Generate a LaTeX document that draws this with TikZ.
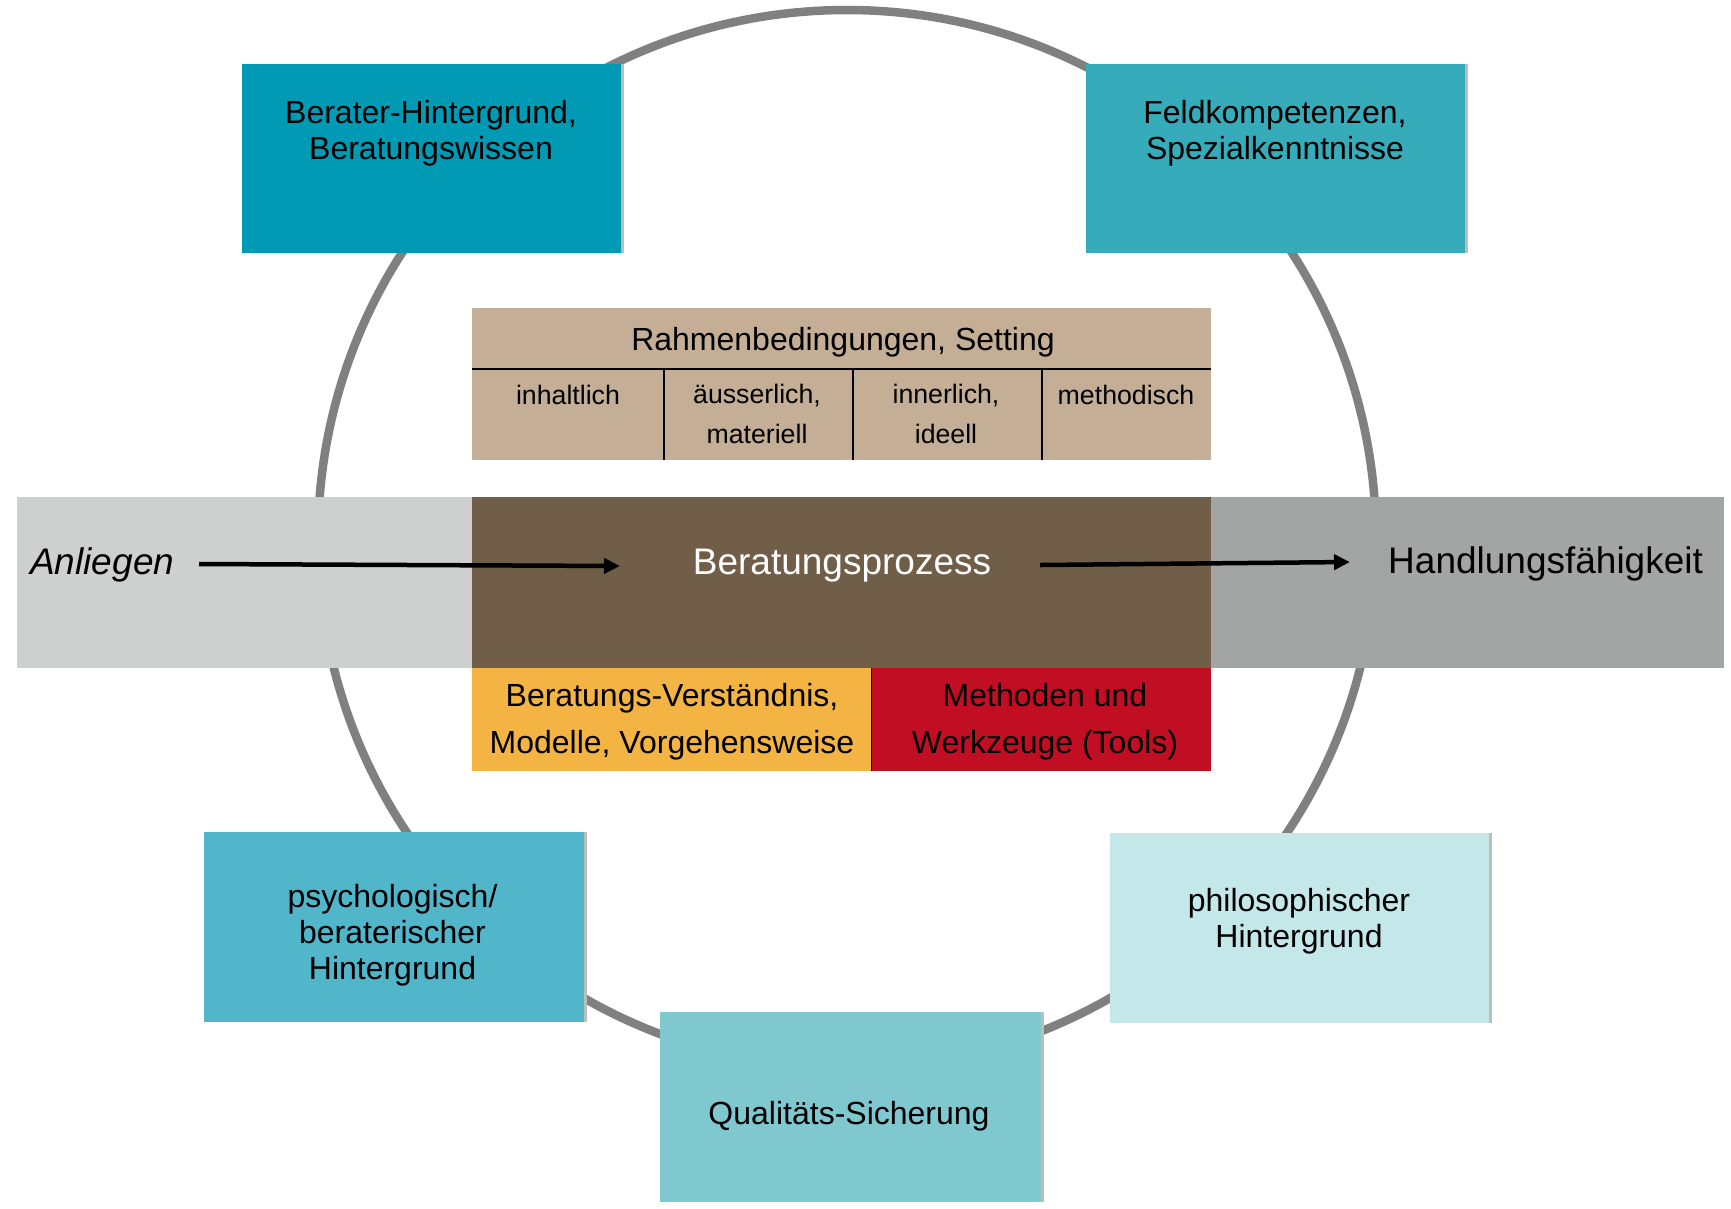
\documentclass[tikz,border=0pt]{standalone}
\usepackage{fontspec}
\setmainfont{Liberation Sans}
\usetikzlibrary{arrows.meta}
\definecolor{ringgray}{HTML}{808080}
\definecolor{cBerater}{HTML}{009AB4}
\definecolor{cFeld}{HTML}{36ABBA}
\definecolor{cPsych}{HTML}{51B6CA}
\definecolor{cQual}{HTML}{80C8D0}
\definecolor{cPhilo}{HTML}{C4E7E9}
\definecolor{cRahmen}{HTML}{C4AF96}
\definecolor{cAnl}{HTML}{CDD0CF}
\definecolor{cBrown}{HTML}{705E48}
\definecolor{cHand}{HTML}{A3A5A4}
\definecolor{cOrange}{HTML}{F3B443}
\definecolor{cRed}{HTML}{C10E23}
\definecolor{cEdge}{HTML}{BDBDBD}
\begin{document}
\begin{tikzpicture}[x=1pt,y=-1pt,
  panel/.style={draw=none,inner sep=0,outer sep=0,anchor=north west},
  sidebar/.style={cEdge,line width=3pt},
  rule/.style={black,line width=1.4pt},
  txtbox/.style={font=\fontsize{32}{36}\selectfont,align=center,inner sep=0},
  txtcol/.style={font=\fontsize{26.7}{40}\selectfont,align=center,inner sep=0},
  txtbot/.style={font=\fontsize{32}{47}\selectfont,align=center,inner sep=0},
  txtband/.style={font=\fontsize{37}{44}\selectfont,inner sep=0},
  arr/.style={black,line width=4.5pt,-{Triangle[length=16pt,width=15pt]}}]
\useasboundingbox (0,0) rectangle (1731,1208);

% ring
\draw[ringgray,line width=8.5pt] (847,539) circle (529pt);

% outer boxes
\node[panel,fill=cBerater,minimum width=379pt,minimum height=189pt] (berater) at (242,64) {};
\node[panel,fill=cFeld,minimum width=379pt,minimum height=189pt] (feld) at (1086,64) {};
\node[panel,fill=cPsych,minimum width=380pt,minimum height=190pt] (psych) at (204,832) {};
\node[panel,fill=cQual,minimum width=381pt,minimum height=190pt] (qual) at (660,1012) {};
\node[panel,fill=cPhilo,minimum width=379pt,minimum height=190pt] (philo) at (1110,833) {};
\foreach \b in {berater,feld,psych,qual,philo}
  \draw[sidebar] ([xshift=1.5pt]\b.north east) -- ([xshift=1.5pt]\b.south east);

% Rahmen table
\node[panel,fill=cRahmen,minimum width=739pt,minimum height=152pt] (rahmen) at (472,308) {};
\coordinate (hl) at (472,369);
\coordinate (hr) at (1211,369);
\draw[rule] (hl) -- (hr);
\foreach \cx in {664,853,1042}
  \draw[rule] (\cx,369) -- (\cx,460);

% band
\node[panel,fill=cAnl,minimum width=455pt,minimum height=171pt] (anlband) at (17,497) {};
\node[panel,fill=cBrown,minimum width=739pt,minimum height=171pt] (prozband) at (472,497) {};
\node[panel,fill=cHand,minimum width=513pt,minimum height=171pt] (handband) at (1211,497) {};

% bottom pair
\node[panel,fill=cOrange,minimum width=399pt,minimum height=103pt] (verst) at (472,668) {};
\node[panel,fill=cRed,minimum width=340pt,minimum height=103pt] (meth) at (871,668) {};
\draw[black,line width=1pt] (verst.north east) -- (verst.south east);

% texts
\node[txtbox] (tberater) at (431,133.7) {Berater-Hintergrund,\\Beratungswissen};
\node[txtbox] (tfeld) at (1275,133.7) {Feldkompetenzen,\\Spezialkenntnisse};
\node[txtbox] (tpsych) at (392.5,935.7) {psychologisch/\\beraterischer\\Hintergrund};
\node[txtbox] (tphilo) at (1299,921.7) {philosophischer\\Hintergrund};
\node[txtbox,anchor=base] (tqual) at (849,1124) {Qualitäts-Sicherung};
\node[txtbox,anchor=base] (trahmen) at (843,350) {Rahmenbedingungen, Setting};
\node[txtcol,anchor=base] (tc1) at (568,404) {inhaltlich};
\node[txtcol] (tc2) at (757,414.3) {äusserlich,\\materiell};
\node[txtcol] (tc3) at (946,414.3) {innerlich,\\ideell};
\node[txtcol,anchor=base] (tc4) at (1126,404) {methodisch};
\node[txtbot] (tverst) at (672,722) {Beratungs-Verständnis,\\Modelle, Vorgehensweise};
\node[txtbot] (tmeth) at (1045,722) {Methoden und\\Werkzeuge (Tools)};
\node[txtband,anchor=base west,font=\fontsize{37}{44}\selectfont\itshape] (tanl) at (30,574) {Anliegen};
\node[txtband,anchor=base,text=white] (tproz) at (842,574) {Beratungsprozess};
\node[txtband,anchor=base west] (thand) at (1388,573) {Handlungsfähigkeit};

% arrows
\coordinate (a1s) at (199,564);
\coordinate (a1e) at (620,566);
\coordinate (a2s) at (1040,565);
\coordinate (a2e) at (1350,562);
\draw[arr] (a1s) -- (a1e);
\draw[arr] (a2s) -- (a2e);
\end{tikzpicture}
\end{document}
